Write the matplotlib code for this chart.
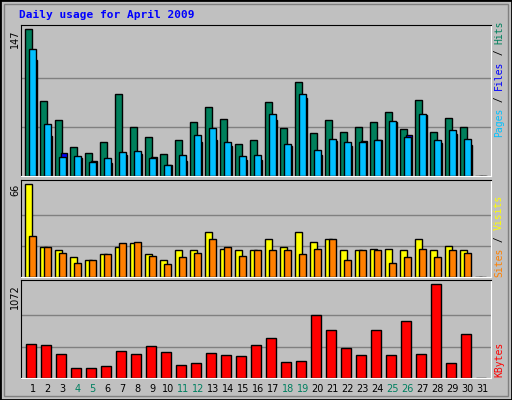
import matplotlib
matplotlib.use("Agg")
import matplotlib.pyplot as plt
from matplotlib.patches import Rectangle

days = list(range(1, 32))
hits = [147, 75, 56, 29, 23, 34, 82, 49, 39, 22, 36, 54, 69, 57, 32, 36, 74, 48, 94, 43,
        56, 44, 49, 54, 64, 47, 76, 44, 58, 49, 0]
files = [116, 40, 23, 18, 15, 13, 21, 22, 19, 11, 15, 34, 36, 30, 16, 16, 56, 30, 78, 21,
         35, 30, 35, 36, 54, 41, 61, 33, 42, 31, 0]
pages = [127, 52, 19, 20, 14, 18, 24, 25, 18, 11, 21, 41, 48, 34, 20, 21, 62, 32, 82, 26,
         37, 34, 34, 36, 55, 39, 62, 36, 46, 37, 0]
sites = [66, 21, 19, 14, 12, 16, 21, 24, 16, 12, 19, 19, 32, 20, 19, 19, 27, 21, 32, 25,
         27, 19, 19, 20, 20, 19, 27, 19, 22, 19, 0]
visits = [29, 21, 17, 10, 12, 16, 24, 25, 15, 9, 14, 17, 27, 21, 15, 19, 19, 19, 16, 20,
          27, 12, 19, 19, 10, 14, 20, 14, 19, 17, 0]
kbytes = [391, 379, 274, 110, 110, 133, 309, 274, 368, 297, 145, 168, 286, 262, 250, 379,
          450, 180, 192, 720, 544, 344, 262, 544, 262, 649, 274, 1072, 168, 497, 0]
weekend = [4, 5, 11, 12, 18, 19, 25, 26]

W, H = 512, 400
BG = "#C0C0C0"
fig = plt.figure(figsize=(W / 100, H / 100), dpi=100)
fig.patch.set_facecolor(BG)

# outer bevel
fig.add_artist(Rectangle((0, 0), 1, 1, transform=fig.transFigure, fill=False,
                         ec="black", lw=2))
fig.add_artist(Rectangle((4 / W, 4 / H), 1 - 8 / W, 1 - 8 / H, transform=fig.transFigure,
                         fill=False, ec="#808080", lw=1))


def px_axes(left, top, right, bottom):
    ax = fig.add_axes([left / W, 1 - bottom / H, (right - left) / W, (bottom - top) / H])
    ax.set_facecolor(BG)
    ax.set_xlim(0.69, 32.03)
    ax.set_xticks([])
    ax.set_yticks([])
    for s in ("left", "top"):
        ax.spines[s].set_color("black")
    for s in ("right", "bottom"):
        ax.spines[s].set_color("white")
    return ax


def grid(ax, vmax):
    for g in (vmax / 3, 2 * vmax / 3):
        ax.axhline(g, color="#808080", lw=1, zorder=0)


bar_kw = dict(align="edge", edgecolor="black", linewidth=1)
d = days

# top panel: hits / files / pages
ax1 = px_axes(20.7, 25, 490.7, 176.5)
ax1.set_ylim(0, 151)
grid(ax1, 147)
ax1.bar(d, hits, width=0.467, color="#00805C", **bar_kw)
ax1.bar([x + 0.4 for x in d], files, width=0.4, color="#0000FF", **bar_kw)
ax1.bar([x + 0.267 for x in d], pages, width=0.467, color="#00C0FF", **bar_kw)

# middle panel: sites / visits
ax2 = px_axes(20.7, 180.3, 490.7, 276.5)
ax2.set_ylim(0, 68.9)
grid(ax2, 66)
ax2.bar(d, sites, width=0.467, color="#FFFF00", **bar_kw)
ax2.bar([x + 0.267 for x in d], visits, width=0.467, color="#FF8000", **bar_kw)

# bottom panel: kbytes
ax3 = px_axes(20.7, 280.3, 490.7, 377.7)
ax3.set_ylim(0, 1118)
grid(ax3, 1072)
ax3.bar([x + 0.067 for x in d], kbytes, width=0.667, color="#FF0000", **bar_kw)

mono = "DejaVu Sans Mono"


def ftext(x, y, s, **kw):
    fig.text(x / W, 1 - y / H, s, **kw)


ftext(19, 15, "Daily usage for April 2009", color="#0000FF", family=mono,
      fontweight="bold", fontsize=8, va="center")

for lab, ytop in (("147", 29), ("66", 184), ("1072", 284)):
    ftext(15, ytop, lab, rotation=90, ha="center", va="top", fontsize=7)

# day labels
for day in days:
    xc = 10.3 + 15 * day + 7.5
    ftext(xc, 389, str(day), ha="center", va="center", fontsize=7,
          color="#008060" if day in weekend else "black")

CH = 0.6 * 7 * 100 / 72


def side_label(parts, ybottom):
    y = ybottom
    for s, c in parts:
        ftext(499, y, s, rotation=90, ha="center", va="bottom", fontsize=7,
              family=mono, color=c)
        y -= CH * len(s)


side_label([("Pages", "#00C0FF"), (" / ", "black"), ("Files", "#0000FF"),
            (" / ", "black"), ("Hits", "#00805C")], 137)
side_label([("Sites", "#FF8000"), (" / ", "black"), ("Visits", "#FFFF00")], 277)
side_label([("KBytes", "#FF0000")], 377)

fig.savefig("out.png", dpi=100, facecolor=BG)
